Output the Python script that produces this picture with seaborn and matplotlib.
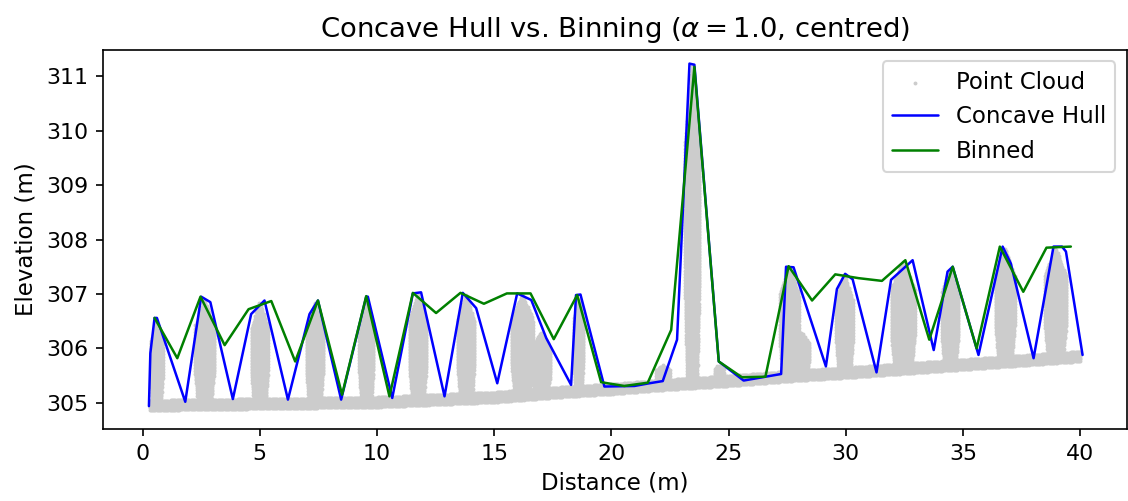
import numpy as np
import pandas as pd
import matplotlib
matplotlib.use("Agg")
import matplotlib.pyplot as plt
import seaborn as sns

# ---------------- data ----------------
hull_x = [0.27, 0.33, 0.51, 0.61, 1.82, 2.50, 2.89, 3.85, 4.63, 5.20, 6.20, 7.12, 7.48,
          8.47, 9.54, 9.61, 10.65, 11.53, 11.88, 12.88, 13.66, 14.23, 15.13, 15.98, 16.58,
          17.22, 18.28, 18.49, 18.68, 19.70, 20.98, 21.62, 22.19, 22.80, 23.33, 23.54,
          24.58, 25.64, 27.24, 27.45, 27.77, 29.15, 29.62, 29.97, 30.29, 31.31, 31.93,
          32.85, 33.75, 34.34, 34.56, 35.66, 36.69, 37.04, 38.01, 38.86, 39.22, 39.39, 40.10]
hull_z = [304.94, 305.91, 306.56, 306.56, 305.02, 306.95, 306.85, 305.07, 306.63, 306.88,
          305.06, 306.63, 306.88, 305.06, 306.95, 306.95, 305.09, 307.01, 307.03, 305.12,
          307.02, 306.74, 305.36, 307.01, 306.89, 306.19, 305.33, 306.98, 306.99, 305.30,
          305.31, 305.36, 305.40, 306.16, 311.23, 311.21, 305.76, 305.41, 305.53, 307.50,
          307.49, 305.67, 307.09, 307.37, 307.27, 305.56, 307.26, 307.62, 305.97, 307.41,
          307.50, 305.88, 307.87, 307.56, 305.82, 307.87, 307.87, 307.78, 305.88]

bin_x = [0.51, 1.48, 2.47, 3.50, 4.52, 5.49, 6.51, 7.48, 8.51, 9.54, 10.53, 11.53, 12.52,
         13.56, 14.56, 15.54, 16.55, 17.54, 18.54, 19.56, 20.55, 21.55, 22.55, 23.54, 24.58,
         25.57, 26.57, 27.56, 28.56, 29.55, 30.55, 31.54, 32.54, 33.56, 34.56, 35.58, 36.57,
         37.57, 38.56, 39.60]
bin_z = [306.56, 305.82, 306.95, 306.06, 306.72, 306.87, 305.76, 306.88, 305.15, 306.96,
         305.12, 307.02, 306.65, 307.02, 306.82, 307.01, 307.01, 306.17, 306.98, 305.38,
         305.31, 305.37, 306.34, 311.17, 305.76, 305.47, 305.48, 307.51, 306.88, 307.36,
         307.29, 307.24, 307.62, 306.16, 307.50, 306.00, 307.87, 307.04, 307.85, 307.87]

# point-cloud envelope (ground profile + tree crowns)
ground_x = [0.3, 5.0, 10.0, 15.0, 18.0, 20.0, 22.0, 25.0, 28.0, 30.0, 35.0, 40.0]
ground_z = [304.95, 304.98, 305.01, 305.10, 305.20, 305.25, 305.32, 305.40, 305.50, 305.55, 305.70, 305.85]
tree_x   = [0.60, 2.65, 5.00, 7.35, 9.55, 11.75, 13.80, 16.20, 17.00, 18.60, 22.20, 23.45, 24.60,
            27.60, 28.10, 29.95, 32.45, 34.45, 36.80, 38.95]
tree_top = [306.50, 306.90, 306.85, 306.85, 306.90, 307.00, 307.00, 307.00, 306.30, 306.95, 305.70,
            311.20, 305.70, 307.50, 306.30, 307.35, 307.60, 307.45, 307.85, 307.85]
tree_hw  = [0.25, 0.40, 0.35, 0.35, 0.30, 0.35, 0.35, 0.45, 0.40, 0.20, 0.30, 0.30, 0.20,
            0.40, 0.35, 0.35, 0.50, 0.35, 0.40, 0.45]

title = r"Concave Hull vs. Binning ($\alpha = 1.0$, centred)"
xlabel = "Distance (m)"
ylabel = "Elevation (m)"

# ---------------- build the point cloud lattice ----------------
dx, dz = 0.05, 0.028
px, pz = [], []
gx = np.arange(ground_x[0], ground_x[-1] + 1e-9, dx)
gz = np.interp(gx, ground_x, ground_z)
for off in np.arange(-0.08, 0.10, dz):
    px.extend(gx)
    pz.extend(gz + off)
for cx, top, hw in zip(tree_x, tree_top, tree_hw):
    base = float(np.interp(cx, ground_x, ground_z))
    h = top - base
    for k, z in enumerate(np.arange(base, top, dz)):
        t = (z - base) / h
        if t > 0.75:
            w = hw * (1 - t) / 0.25
        elif t > 0.3:
            w = hw
        else:
            w = hw * (0.7 + 0.3 * t / 0.3)
        xs = np.arange(cx - w + (k % 2) * dx / 2, cx + w + 1e-9, dx)
        px.extend(xs)
        pz.extend([z] * len(xs))
cloud = pd.DataFrame({"x": px, "z": pz})
hull = pd.DataFrame({"x": hull_x, "z": hull_z})
binned = pd.DataFrame({"x": bin_x, "z": bin_z})

# ---------------- plot ----------------
sns.set_style("ticks")
plt.rcParams.update({
    "font.family": ["DejaVu Sans"],
    "font.size": 10.5,
    "axes.edgecolor": "black",
    "xtick.color": "black",
    "ytick.color": "black",
    "axes.labelcolor": "black",
    "text.color": "black",
})

fig, ax = plt.subplots(figsize=(7.52, 3.34), dpi=150)
fig.subplots_adjust(left=0.0913, right=0.999, top=0.9002, bottom=0.1437)

sns.scatterplot(data=cloud, x="x", y="z", ax=ax, color="#cccccc", s=3.5,
                linewidth=0, label="Point Cloud", rasterized=True)
sns.lineplot(data=hull, x="x", y="z", ax=ax, color="blue", lw=1.2, sort=False,
             estimator=None, label="Concave Hull")
sns.lineplot(data=binned, x="x", y="z", ax=ax, color="green", lw=1.2, sort=False,
             estimator=None, label="Binned")

ax.set_xlim(-1.69, 41.99)
ax.set_ylim(304.52, 311.48)
ax.set_xticks([0, 5, 10, 15, 20, 25, 30, 35, 40])
ax.set_yticks([305, 306, 307, 308, 309, 310, 311])
ax.set_title(title, fontsize=13.2)
ax.set_xlabel(xlabel, fontsize=11)
ax.set_ylabel(ylabel, fontsize=11)
ax.tick_params(labelsize=10.6, length=3.5, width=0.8)
for sp in ax.spines.values():
    sp.set_linewidth(0.8)
    sp.set_visible(True)
leg = ax.legend(loc="upper right", fontsize=11, markerscale=1.0)
leg.get_frame().set_edgecolor("0.8")

fig.savefig("out.png", dpi=150)
